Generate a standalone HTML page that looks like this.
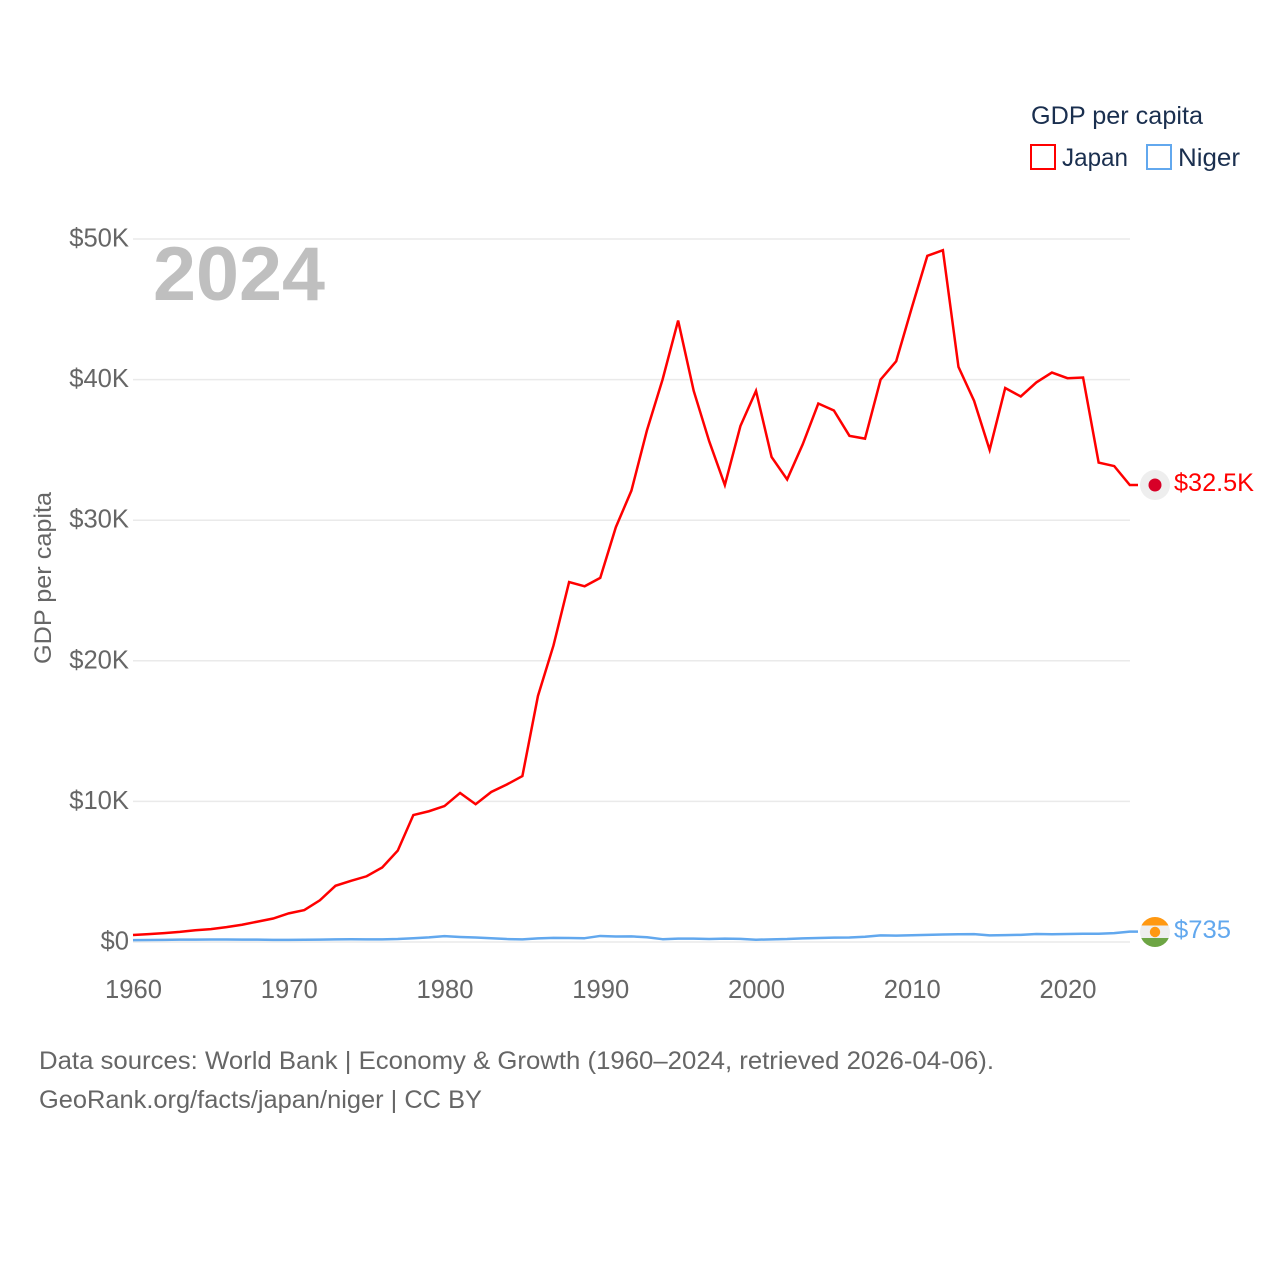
<!DOCTYPE html>
<html lang="en">
<head>
<meta charset="utf-8">
<title>GDP per capita: Japan and Niger</title>
<style>
html,body{margin:0;padding:0;background:#fff;width:1280px;height:1280px;overflow:hidden}
svg{display:block}
text{font-family:"Liberation Sans",sans-serif}
.tick{fill:#666;font-size:25.6px}
</style>
</head>
<body>
<svg id="chart" xmlns="http://www.w3.org/2000/svg" width="1280" height="1280" viewBox="0 0 1280 1280">
  <rect width="1280" height="1280" fill="#fff"/>
  <g id="grid"></g>
  <g id="yticks"></g>
  <g id="xticks"></g>
  <text x="153" y="300" font-size="76" font-weight="700" fill="#bfbfbf" textLength="172" lengthAdjust="spacingAndGlyphs">2024</text>
  <text transform="translate(51,578) rotate(-90)" text-anchor="middle" font-size="24" fill="#666" textLength="172" lengthAdjust="spacingAndGlyphs">GDP per capita</text>

  <path id="line-niger" fill="none" stroke="#62a8ee" stroke-width="2.5" stroke-linejoin="round"/>
  <path id="line-japan" fill="none" stroke="#ff0000" stroke-width="2.5" stroke-linejoin="miter"/>

  <g>
    <circle cx="1155" cy="485" r="15" fill="#eeeeee"/>
    <circle cx="1155" cy="485" r="6.5" fill="#d80027"/>
  </g>
  <text x="1174" y="491" font-size="25" fill="#ff0000" textLength="80" lengthAdjust="spacingAndGlyphs">$32.5K</text>

  <g>
    <clipPath id="niger-clip"><circle cx="1155" cy="932" r="15"/></clipPath>
    <g clip-path="url(#niger-clip)">
      <rect x="1140" y="917" width="30" height="8.5" fill="#ff9811"/>
      <rect x="1140" y="925.5" width="30" height="12.5" fill="#eeeeee"/>
      <rect x="1140" y="938" width="30" height="9" fill="#6da544"/>
    </g>
    <circle cx="1155" cy="932" r="5.2" fill="#ff9811"/>
  </g>
  <text x="1174" y="938" font-size="25" fill="#62a8ee" textLength="57" lengthAdjust="spacingAndGlyphs">$735</text>

  <g>
    <text x="1031" y="124" font-size="25" fill="#1a2f4f" textLength="172" lengthAdjust="spacingAndGlyphs">GDP per capita</text>
    <g>
      <rect x="1031" y="145" width="24" height="24" fill="#fff" stroke="#ff0000" stroke-width="2"/>
      <text x="1062" y="166" font-size="25" fill="#1a2f4f" textLength="66" lengthAdjust="spacingAndGlyphs">Japan</text>
    </g>
    <g>
      <rect x="1147" y="145" width="24" height="24" fill="#fff" stroke="#62a8ee" stroke-width="2"/>
      <text x="1178" y="166" font-size="25" fill="#1a2f4f" textLength="62" lengthAdjust="spacingAndGlyphs">Niger</text>
    </g>
  </g>

  <text x="39" y="1069" font-size="25" fill="#666" textLength="955" lengthAdjust="spacingAndGlyphs">Data sources: World Bank | Economy &amp; Growth (1960–2024, retrieved 2026-04-06).</text>
  <text x="39" y="1108" font-size="25" fill="#666" textLength="443" lengthAdjust="spacingAndGlyphs">GeoRank.org/facts/japan/niger | CC BY</text>
</svg>
<script>
const startYear = 1960;
const xTickYears = [1960, 1970, 1980, 1990, 2000, 2010, 2020];
const yTickValues = [0, 10000, 20000, 30000, 40000, 50000];
const yTickLabels = ["$0", "$10K", "$20K", "$30K", "$40K", "$50K"];
const japanValues = [500,564,633,717,836,919,1058,1229,1450,1670,2038,2272,2967,3998,4354,4675,5300,6500,9030,9300,9670,10600,9800,10670,11200,11800,17500,21100,25600,25300,25900,29500,32100,36400,40000,44200,39200,35600,32500,36700,39200,34500,32900,35400,38300,37800,36000,35800,40000,41300,45100,48800,49200,40900,38500,35000,39400,38800,39800,40500,40100,40150,34100,33850,32500];
const nigerValues = [133,140,150,165,170,180,180,170,165,155,150,160,165,190,200,190,190,210,270,330,420,360,320,270,210,190,260,290,280,270,430,390,400,340,200,240,240,210,240,220,160,190,210,260,280,310,320,370,470,450,480,510,530,550,560,470,490,510,570,550,570,590,590,630,735];

const NS = 'http://www.w3.org/2000/svg';
function xScale(year) { return 133 + (year - 1960) * 15.575; }
function yScale(value) { return 942 - value * (942 - 239) / 50000; }

const grid = document.getElementById('grid');
const yticks = document.getElementById('yticks');
const xticks = document.getElementById('xticks');

yTickValues.forEach(function (v, i) {
  const ln = document.createElementNS(NS, 'line');
  
  
  ln.setAttribute('x1', 133);
  ln.setAttribute('x2', 1130);
  ln.setAttribute('y1', yScale(v));
  ln.setAttribute('y2', yScale(v));
  ln.setAttribute('stroke', '#eaeaea');
  ln.setAttribute('stroke-width', '1.5');
  grid.appendChild(ln);
  const t = document.createElementNS(NS, 'text');
  
  
  t.setAttribute('class', 'tick');
  t.setAttribute('x', 129);
  t.setAttribute('y', yScale(v) + 7.5);
  t.setAttribute('text-anchor', 'end');
  t.textContent = yTickLabels[i];
  yticks.appendChild(t);
});

xTickYears.forEach(function (yr) {
  const t = document.createElementNS(NS, 'text');
  
  
  t.setAttribute('class', 'tick');
  t.setAttribute('x', xScale(yr) + 0.5);
  t.setAttribute('y', 998);
  t.setAttribute('text-anchor', 'middle');
  t.textContent = String(yr);
  xticks.appendChild(t);
});

function linePath(values) {
  let d = values.map(function (v, i) {
    return (i ? 'L' : 'M') + xScale(startYear + i).toFixed(2) + ' ' + yScale(v).toFixed(2);
  }).join(' ');
  d += ' H1138';
  return d;
}
document.getElementById('line-japan').setAttribute('d', linePath(japanValues));
document.getElementById('line-niger').setAttribute('d', linePath(nigerValues));
</script>
</body>
</html>
